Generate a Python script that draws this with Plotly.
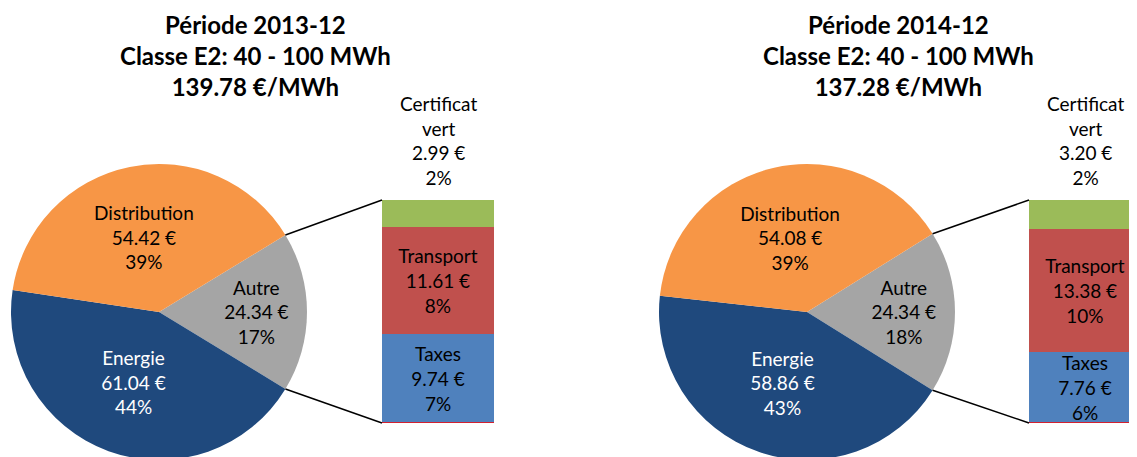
import math
import plotly.graph_objects as go

# Canvas
W, H = 1137, 457
PAGE_PAD = 8  # default body margin of the html page

# Data
periods = ["2013-12", "2014-12"]
class_label = "Classe E2: 40 - 100 MWh"
price_per_mwh = [139.78, 137.28]

pie_labels = ["Autre", "Energie", "Distribution"]
pie_values_2013 = [24.34, 61.04, 54.42]
pie_values_2014 = [24.34, 58.86, 54.08]

bar_labels = ["Taxes", "Transport", "Certificat vert"]
bar_values_2013 = [9.74, 11.61, 2.99]
bar_values_2014 = [7.76, 13.38, 3.20]

pie_colors = ["#A5A5A5", "#1F497D", "#F79646"]
pie_text_colors = ["black", "white", "black"]
bar_colors = ["#4F81BD", "#C0504D", "#9BBB59"]

FONT = "Lato"

# Layout in window pixels (left chart, right chart)
PIE_CX = [159, 807]
PIE_CY = 312
PIE_R = 148
BAR_LEFT = [382, 1029]
BAR_W = 112
BAR_TOP = 200
BAR_BOTTOM = 423
TITLE_X = [255, 898]


def px_x(x):
    return (x - PAGE_PAD) / W


def px_y(y):
    return 1 - (y - PAGE_PAD) / H


fig = go.Figure()

charts = [
    (pie_values_2013, bar_values_2013),
    (pie_values_2014, bar_values_2014),
]

for i, (pvals, bvals) in enumerate(charts):
    total = sum(pvals)
    other = pvals[0]
    xa = "x" if i == 0 else "x2"
    ya = "y" if i == 0 else "y2"

    # pie, with the "Autre" slice centred on 3 o'clock
    fig.add_trace(go.Pie(
        labels=pie_labels, values=pvals, sort=False,
        direction="clockwise",
        rotation=90 - 180 * other / total,
        marker=dict(colors=pie_colors, line=dict(width=0)),
        texttemplate="%{label}<br>%{value:.2f} €<br>%{percent:.0%}",
        textposition="inside", insidetextorientation="horizontal",
        textfont=dict(family=FONT, size=19, color=pie_text_colors),
        domain=dict(x=[px_x(PIE_CX[i] - PIE_R), px_x(PIE_CX[i] + PIE_R)],
                    y=[px_y(PIE_CY + PIE_R), px_y(PIE_CY - PIE_R)]),
        hoverinfo="label+value+percent",
    ))

    # stacked bar splitting "Autre"
    for lab, v, c in zip(bar_labels, bvals, bar_colors):
        txt = "" if lab == "Certificat vert" else f"{lab}<br>{v:.2f} €<br>{v / total:.0%}"
        fig.add_trace(go.Bar(
            x=[pie_labels[0]], y=[v], marker=dict(color=c, line=dict(width=0)),
            text=[txt], textposition="inside", insidetextanchor="middle",
            constraintext="none", textangle=0,
            textfont=dict(family=FONT, size=19, color="black"),
            xaxis=xa, yaxis=ya, name=lab,
        ))
        if lab == "Certificat vert":
            fig.add_annotation(
                x=pie_labels[0], y=sum(bvals), xref=xa, yref=ya,
                text=f"Certificat<br>vert<br>{v:.2f} €<br>{v / total:.0%}",
                showarrow=False, yanchor="bottom", yshift=9,
                font=dict(family=FONT, size=19, color="black"),
            )

    # thin red line under the bar
    fig.add_shape(type="line", xref=f"{xa} domain", yref=ya,
                  x0=0, x1=1, y0=0, y1=0, line=dict(color="#FF0000", width=1.5))

    # connector lines from the pie to the bar
    half = math.pi * other / total
    ex = PIE_CX[i] + PIE_R * math.cos(half)
    for sgn, by in [(-1, BAR_TOP), (1, BAR_BOTTOM)]:
        ey = PIE_CY + sgn * PIE_R * math.sin(half)
        fig.add_shape(type="line", xref="paper", yref="paper",
                      x0=px_x(ex), y0=px_y(ey), x1=px_x(BAR_LEFT[i]), y1=px_y(by),
                      line=dict(color="black", width=1.5))

    # title
    fig.add_annotation(
        x=px_x(TITLE_X[i]), y=px_y(8), xref="paper", yref="paper",
        text=f"<b>Période {periods[i]}<br>{class_label}<br>{price_per_mwh[i]:.2f} €/MWh</b>",
        showarrow=False, yanchor="top", xanchor="center",
        font=dict(family=FONT, size=24, color="black"),
    )

    # axes for the bar; the right bar is cut by the window edge
    x_right = min(BAR_LEFT[i] + BAR_W, W)
    vis_units = (x_right - BAR_LEFT[i]) / BAR_W
    axis_x = dict(domain=[px_x(BAR_LEFT[i]), px_x(x_right)], range=[-0.5, -0.5 + vis_units],
                  visible=False, anchor=ya)
    axis_y = dict(domain=[px_y(BAR_BOTTOM), px_y(BAR_TOP)], range=[0, sum(bvals)],
                  visible=False, anchor=xa)
    if i == 0:
        fig.update_layout(xaxis=axis_x, yaxis=axis_y)
    else:
        fig.update_layout(xaxis2=axis_x, yaxis2=axis_y)

fig.update_layout(
    width=W, height=H,
    margin=dict(l=0, r=0, t=0, b=0),
    barmode="stack", bargap=0,
    showlegend=False,
    paper_bgcolor="white", plot_bgcolor="white",
    font=dict(family=FONT),
)

fig.write_html("out.html")
